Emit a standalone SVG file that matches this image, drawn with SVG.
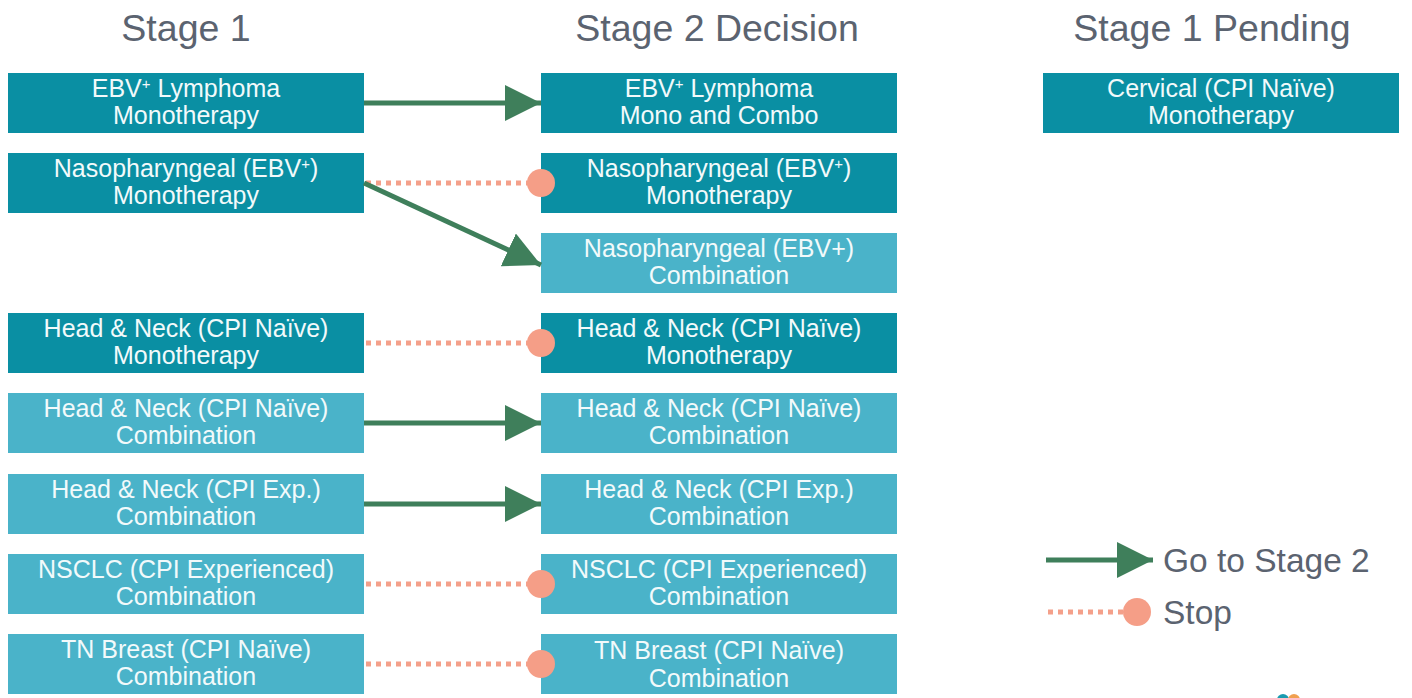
<svg xmlns="http://www.w3.org/2000/svg" width="1412" height="698" viewBox="0 0 1412 698">
<style>
.dark{fill:#0A8FA3}
.light{fill:#4AB3C9}
.bt{font-family:"Liberation Sans",Arial,sans-serif;font-size:25px;fill:#F2FAFB;text-anchor:middle}
.hd{font-family:"Liberation Sans",Arial,sans-serif;font-size:37.5px;fill:#5B6370;text-anchor:middle}
.lg{font-family:"Liberation Sans",Arial,sans-serif;font-size:33.5px;fill:#5B6370}
.go{stroke:#3F7F5B;stroke-width:5;fill:none}
.stop{stroke:#F4A08A;stroke-width:5;stroke-dasharray:5 5;fill:none}
.dot{fill:#F59E87}
.sup{font-size:15px}
</style>
<defs>
<marker id="ah" markerUnits="userSpaceOnUse" markerWidth="36" markerHeight="36" refX="36" refY="18" orient="auto">
<path d="M0,0 L36,18 L0,36 z" fill="#3F7F5B"/>
</marker>
</defs>
<rect width="1412" height="698" fill="#FFFFFF"/>
<g id="headers">
<text class="hd" x="186" y="41">Stage 1</text>
<text class="hd" x="717" y="41">Stage 2 Decision</text>
<text class="hd" x="1212" y="41">Stage 1 Pending</text>
</g>
<g id="s1-ebv">
<rect class="dark" x="8" y="73" width="356" height="60"/>
<text class="bt" x="186" y="97">EBV<tspan class="sup" dy="-8">+</tspan><tspan dy="8"> Lymphoma</tspan></text>
<text class="bt" x="186" y="124">Monotherapy</text>
</g>
<g id="s1-naso">
<rect class="dark" x="8" y="153" width="356" height="60"/>
<text class="bt" x="186" y="177">Nasopharyngeal (EBV<tspan class="sup" dy="-8">+</tspan><tspan dy="8">)</tspan></text>
<text class="bt" x="186" y="204">Monotherapy</text>
</g>
<g id="s1-hn-mono">
<rect class="dark" x="8" y="313" width="356" height="60"/>
<text class="bt" x="186" y="337">Head &amp; Neck (CPI Naïve)</text>
<text class="bt" x="186" y="364">Monotherapy</text>
</g>
<g id="s1-hn-combo">
<rect class="light" x="8" y="393" width="356" height="60"/>
<text class="bt" x="186" y="417">Head &amp; Neck (CPI Naïve)</text>
<text class="bt" x="186" y="444">Combination</text>
</g>
<g id="s1-hn-exp">
<rect class="light" x="8" y="474" width="356" height="60"/>
<text class="bt" x="186" y="498">Head &amp; Neck (CPI Exp.)</text>
<text class="bt" x="186" y="525">Combination</text>
</g>
<g id="s1-nsclc">
<rect class="light" x="8" y="554" width="356" height="60"/>
<text class="bt" x="186" y="578">NSCLC (CPI Experienced)</text>
<text class="bt" x="186" y="605">Combination</text>
</g>
<g id="s1-tnb">
<rect class="light" x="8" y="634" width="356" height="60"/>
<text class="bt" x="186" y="658">TN Breast (CPI Naïve)</text>
<text class="bt" x="186" y="685">Combination</text>
</g>
<g id="s2-ebv">
<rect class="dark" x="541" y="73" width="356" height="60"/>
<text class="bt" x="719" y="97">EBV<tspan class="sup" dy="-8">+</tspan><tspan dy="8"> Lymphoma</tspan></text>
<text class="bt" x="719" y="124">Mono and Combo</text>
</g>
<g id="s2-naso-mono">
<rect class="dark" x="541" y="153" width="356" height="60"/>
<text class="bt" x="719" y="177">Nasopharyngeal (EBV<tspan class="sup" dy="-8">+</tspan><tspan dy="8">)</tspan></text>
<text class="bt" x="719" y="204">Monotherapy</text>
</g>
<g id="s2-naso-combo">
<rect class="light" x="541" y="233" width="356" height="60"/>
<text class="bt" x="719" y="257">Nasopharyngeal (EBV+)</text>
<text class="bt" x="719" y="284">Combination</text>
</g>
<g id="s2-hn-mono">
<rect class="dark" x="541" y="313" width="356" height="60"/>
<text class="bt" x="719" y="337">Head &amp; Neck (CPI Naïve)</text>
<text class="bt" x="719" y="364">Monotherapy</text>
</g>
<g id="s2-hn-combo">
<rect class="light" x="541" y="393" width="356" height="60"/>
<text class="bt" x="719" y="417">Head &amp; Neck (CPI Naïve)</text>
<text class="bt" x="719" y="444">Combination</text>
</g>
<g id="s2-hn-exp">
<rect class="light" x="541" y="474" width="356" height="60"/>
<text class="bt" x="719" y="498">Head &amp; Neck (CPI Exp.)</text>
<text class="bt" x="719" y="525">Combination</text>
</g>
<g id="s2-nsclc">
<rect class="light" x="541" y="554" width="356" height="60"/>
<text class="bt" x="719" y="578">NSCLC (CPI Experienced)</text>
<text class="bt" x="719" y="605">Combination</text>
</g>
<g id="s2-tnb">
<rect class="light" x="541" y="634" width="356" height="60"/>
<text class="bt" x="719" y="659">TN Breast (CPI Naïve)</text>
<text class="bt" x="719" y="687">Combination</text>
</g>
<g id="pending-cervical">
<rect class="dark" x="1043" y="73" width="356" height="60"/>
<text class="bt" x="1221" y="97">Cervical (CPI Naïve)</text>
<text class="bt" x="1221" y="124">Monotherapy</text>
</g>
<g id="connectors">
<line class="go" x1="364" y1="103" x2="541" y2="103" marker-end="url(#ah)"/>
<line class="stop" x1="366" y1="183" x2="528" y2="183"/>
<circle class="dot" cx="541" cy="183" r="14"/>
<line class="go" x1="364" y1="183" x2="541" y2="265" marker-end="url(#ah)"/>
<line class="stop" x1="366" y1="343" x2="528" y2="343"/>
<circle class="dot" cx="541" cy="343" r="14"/>
<line class="go" x1="364" y1="423" x2="541" y2="423" marker-end="url(#ah)"/>
<line class="go" x1="364" y1="504" x2="541" y2="504" marker-end="url(#ah)"/>
<line class="stop" x1="366" y1="584" x2="528" y2="584"/>
<circle class="dot" cx="541" cy="584" r="14"/>
<line class="stop" x1="366" y1="664" x2="528" y2="664"/>
<circle class="dot" cx="541" cy="664" r="14"/>
</g>
<g id="legend">
<line class="go" x1="1046" y1="560" x2="1153" y2="560" marker-end="url(#ah)"/>
<text class="lg" x="1163" y="572">Go to Stage 2</text>
<line class="stop" x1="1048" y1="612" x2="1124" y2="612"/>
<circle class="dot" cx="1137" cy="612" r="14"/>
<text class="lg" x="1163" y="624">Stop</text>
</g>
<g id="logo">
<circle cx="1283" cy="700" r="6" fill="#1A9BB0"/>
<circle cx="1294" cy="700" r="6" fill="#F0A050"/>
</g>
</svg>
